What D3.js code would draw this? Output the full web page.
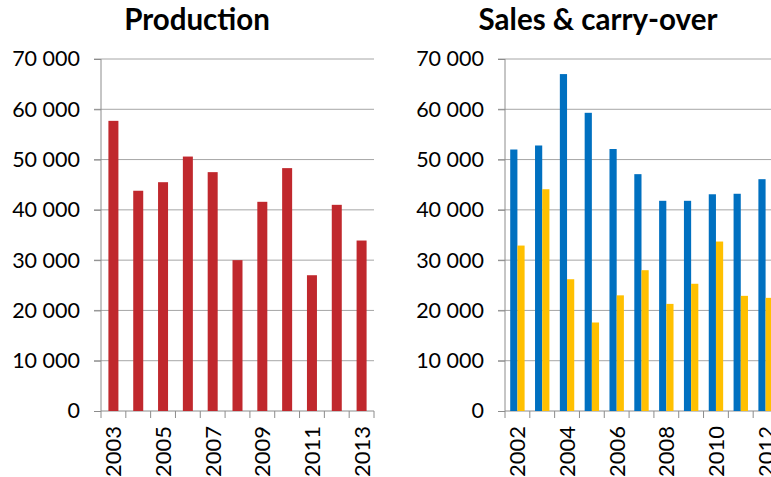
<!DOCTYPE html>
<html>
<head>
<meta charset="utf-8">
<script src="https://cdn.jsdelivr.net/npm/d3@7"></script>
<style>
  body { margin: 0; background: #fff; }
  svg { display: block; font-family: Lato, "Open Sans", sans-serif; }
  .title { font-weight: bold; font-size: 29.5px; fill: #000; }
  .axis text { font-size: 21.5px; fill: #000; font-family: Lato, "Open Sans", sans-serif; }
  .axis.x text { font-size: 22px; }
  .axis path, .axis line { stroke: #8c8c8c; }
  .grid line { stroke: #a6a6a6; }
</style>
</head>
<body>
<svg id="chart" width="771" height="477"></svg>
<script>
// production, left panel
var prodYears = ["2003","2004","2005","2006","2007","2008","2009","2010","2011","2012","2013"];
var production = [57700, 43800, 45500, 50600, 47500, 30000, 41600, 48300, 27000, 41000, 33900];

// sales & carry-over, right panel
var salesYears = ["2002","2003","2004","2005","2006","2007","2008","2009","2010","2011","2012"];
var sales     = [52000, 52800, 67000, 59300, 52100, 47100, 41800, 41800, 43100, 43200, 46100];
var carryOver = [32900, 44100, 26200, 17600, 23000, 28000, 21300, 25300, 33700, 22900, 22500];

var yTicks = [0, 10000, 20000, 30000, 40000, 50000, 60000, 70000];

var svg = d3.select("#chart");
var fmt = function (d) { return d3.format(",")(d).replace(",", " "); };

var plotTop = 59, plotBottom = 411, plotW = 273;

function panel(left, title, titleX, years) {
  var g = svg.append("g").attr("transform", "translate(" + left + ",0)");

  var x = d3.scaleBand().domain(years).range([0, plotW]);
  var y = d3.scaleLinear().domain([0, 70000]).range([plotBottom, plotTop]);

  // gridlines
  g.append("g").attr("class", "grid")
    .selectAll("line").data(yTicks.slice(1)).enter()
    .append("line")
    .attr("x1", -7).attr("x2", plotW)
    .attr("y1", function (d) { return y(d); })
    .attr("y2", function (d) { return y(d); });

  var yAxis = d3.axisLeft(y).tickValues(yTicks).tickFormat(fmt).tickSize(7).tickPadding(14);
  g.append("g").attr("class", "axis y").call(yAxis)
    .call(function (s) { s.select(".domain").attr("d", "M0," + plotTop + "V" + plotBottom); });

  var xAxis = d3.axisBottom(x).tickSize(0).tickFormat(function (d, i) { return i % 2 == 0 ? d : ""; });
  var xg = g.append("g").attr("class", "axis x")
    .attr("transform", "translate(0," + plotBottom + ")")
    .call(xAxis);
  xg.select(".domain").attr("d", "M0,0H" + plotW);
  xg.selectAll("text")
    .attr("transform", "rotate(-90)")
    .attr("text-anchor", "end")
    .attr("x", -15).attr("y", 0).attr("dy", "0.36em");

  // tick marks between categories
  var edges = years.map(function (d) { return x(d); }).concat([plotW]);
  g.append("g").attr("class", "axis")
    .selectAll("line").data(edges).enter()
    .append("line")
    .attr("x1", function (d) { return d; }).attr("x2", function (d) { return d; })
    .attr("y1", plotBottom).attr("y2", plotBottom + 7);

  svg.append("text").attr("class", "title")
    .attr("x", titleX).attr("y", 30).attr("text-anchor", "middle")
    .text(title);

  return { g: g, x: x, y: y };
}

// left
var p1 = panel(101, "Production", 197, prodYears);
var bw1 = 10;
p1.g.selectAll(".bar").data(production).enter()
  .append("rect")
  .attr("x", function (d, i) { return p1.x(prodYears[i]) + p1.x.bandwidth() / 2 - bw1 / 2; })
  .attr("y", function (d) { return p1.y(d); })
  .attr("width", bw1)
  .attr("height", function (d) { return plotBottom - p1.y(d); })
  .attr("fill", "#c0282d");

// right
var p2 = panel(505, "Sales & carry-over", 598, salesYears);
var bw2 = 7.2;
p2.g.selectAll(".sales").data(sales).enter()
  .append("rect")
  .attr("x", function (d, i) { return p2.x(salesYears[i]) + p2.x.bandwidth() / 2 - bw2; })
  .attr("y", function (d) { return p2.y(d); })
  .attr("width", bw2)
  .attr("height", function (d) { return plotBottom - p2.y(d); })
  .attr("fill", "#0070c0");
p2.g.selectAll(".carry").data(carryOver).enter()
  .append("rect")
  .attr("x", function (d, i) { return p2.x(salesYears[i]) + p2.x.bandwidth() / 2; })
  .attr("y", function (d) { return p2.y(d); })
  .attr("width", bw2)
  .attr("height", function (d) { return plotBottom - p2.y(d); })
  .attr("fill", "#ffc000");
</script>
</body>
</html>
